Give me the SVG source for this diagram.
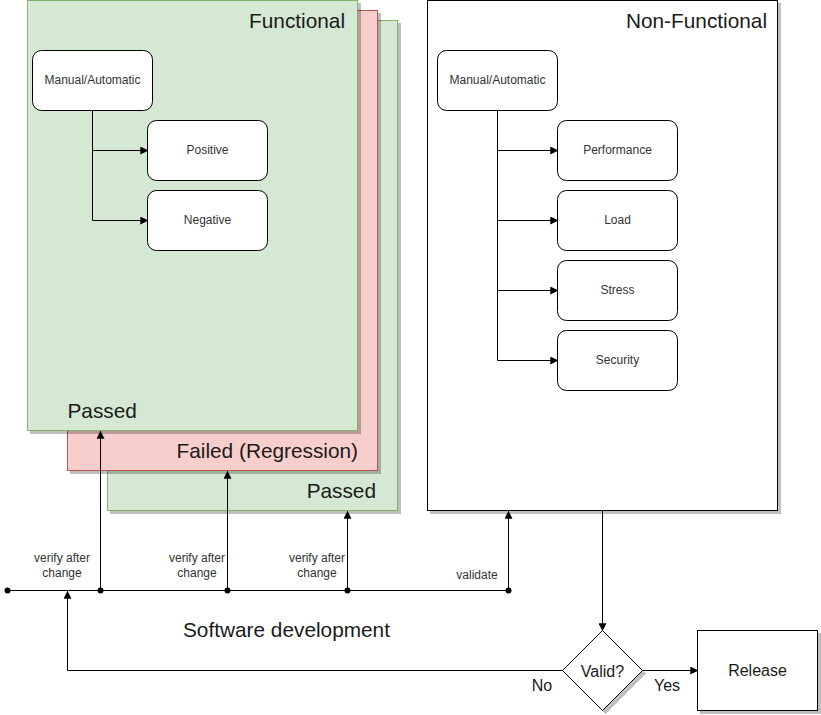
<svg xmlns="http://www.w3.org/2000/svg" width="821" height="715" viewBox="0 0 821 715">
<style>
.big{font-family:"Liberation Sans",Arial,sans-serif;font-size:20.8px;fill:#1a1a1a}
.mid{font-family:"Liberation Sans",Arial,sans-serif;font-size:16px;fill:#1a1a1a}
.sm{font-family:"Liberation Sans",Arial,sans-serif;font-size:12px;fill:#333}
.node{fill:#fff;stroke:#000;stroke-width:1}
.ln{fill:none;stroke:#000;stroke-width:1}
.c{text-anchor:middle}
.e{text-anchor:end}
</style>
<defs>
<filter id="sh" x="-5%" y="-5%" width="115%" height="115%">
<feOffset in="SourceAlpha" dx="3" dy="3" result="o"/>
<feFlood flood-color="#000" flood-opacity="0.25"/>
<feComposite in2="o" operator="in" result="s"/>
<feMerge><feMergeNode in="s"/><feMergeNode in="SourceGraphic"/></feMerge>
</filter>
<marker id="ar" viewBox="0 0 10 10" refX="9" refY="5" markerWidth="8" markerHeight="8" markerUnits="userSpaceOnUse" orient="auto">
<path d="M0,0 L10,5 L0,10 z" fill="#000"/>
</marker>
</defs>

<g id="passed2">
<rect x="107.5" y="20.5" width="290" height="490" fill="#d5e8d4" stroke="#82b366" filter="url(#sh)"/>
<text class="big e" x="376" y="498">Passed</text>
</g>
<g id="failed">
<rect x="67.5" y="10.5" width="310" height="460" fill="#f8cecc" stroke="#b85450" filter="url(#sh)"/>
<text class="big e" x="358" y="458">Failed (Regression)</text>
</g>
<g id="functional">
<rect x="27.5" y="0.5" width="330" height="430" fill="#d5e8d4" stroke="#82b366" filter="url(#sh)"/>
<text class="big e" x="345" y="28">Functional</text>
<text class="big" x="67.5" y="418">Passed</text>
</g>
<g id="nonfunctional">
<rect x="427.5" y="0.5" width="350" height="510" fill="#fff" stroke="#000" filter="url(#sh)"/>
<text class="big e" x="767" y="28">Non-Functional</text>
</g>

<g id="f-manual"><rect class="node" x="32.5" y="50.5" width="120" height="60" rx="9"/><text class="sm c" x="92.5" y="84">Manual/Automatic</text></g>
<g id="f-positive"><rect class="node" x="147.5" y="120.5" width="120" height="60" rx="9"/><text class="sm c" x="207.5" y="154">Positive</text></g>
<g id="f-negative"><rect class="node" x="147.5" y="190.5" width="120" height="60" rx="9"/><text class="sm c" x="207.5" y="224">Negative</text></g>

<g id="nf-manual"><rect class="node" x="437.5" y="50.5" width="120" height="60" rx="9"/><text class="sm c" x="497.5" y="84">Manual/Automatic</text></g>
<g id="nf-performance"><rect class="node" x="557.5" y="120.5" width="120" height="60" rx="9"/><text class="sm c" x="617.5" y="154">Performance</text></g>
<g id="nf-load"><rect class="node" x="557.5" y="190.5" width="120" height="60" rx="9"/><text class="sm c" x="617.5" y="224">Load</text></g>
<g id="nf-stress"><rect class="node" x="557.5" y="260.5" width="120" height="60" rx="9"/><text class="sm c" x="617.5" y="294">Stress</text></g>
<g id="nf-security"><rect class="node" x="557.5" y="330.5" width="120" height="60" rx="9"/><text class="sm c" x="617.5" y="364">Security</text></g>

<g id="valid">
<path d="M602.5,630.5 L642.5,670.5 L602.5,710.5 L562.5,670.5 z" fill="#fff" stroke="#000" filter="url(#sh)"/>
<text class="mid c" x="602.5" y="677">Valid?</text>
</g>
<g id="release">
<rect x="697.5" y="630.5" width="120" height="80" fill="#fff" stroke="#000" filter="url(#sh)"/>
<text class="mid c" x="757.5" y="676">Release</text>
</g>

<g id="connectors">
<path class="ln" d="M92.5,110.5 V220.5"/>
<path class="ln" d="M92.5,150.5 H147.5" marker-end="url(#ar)"/>
<path class="ln" d="M92.5,220.5 H147.5" marker-end="url(#ar)"/>
<path class="ln" d="M497.5,110.5 V360.5"/>
<path class="ln" d="M497.5,150.5 H557.5" marker-end="url(#ar)"/>
<path class="ln" d="M497.5,220.5 H557.5" marker-end="url(#ar)"/>
<path class="ln" d="M497.5,290.5 H557.5" marker-end="url(#ar)"/>
<path class="ln" d="M497.5,360.5 H557.5" marker-end="url(#ar)"/>

<path class="ln" d="M7.5,590.5 H508.5"/>
<path class="ln" d="M100.5,590.5 V431.5" marker-end="url(#ar)"/>
<path class="ln" d="M227.5,590.5 V471.5" marker-end="url(#ar)"/>
<path class="ln" d="M347.5,590.5 V511.5" marker-end="url(#ar)"/>
<path class="ln" d="M508.5,590.5 V511.5" marker-end="url(#ar)"/>
<circle cx="7.5" cy="590.5" r="3"/>
<circle cx="100.5" cy="590.5" r="3"/>
<circle cx="227.5" cy="590.5" r="3"/>
<circle cx="347.5" cy="590.5" r="3"/>
<circle cx="508.5" cy="590.5" r="3"/>

<path class="ln" d="M602.5,510.5 V630.5" marker-end="url(#ar)"/>
<path class="ln" d="M642.5,670.5 H697.5" marker-end="url(#ar)"/>
<path class="ln" d="M562.5,670.5 H67.5 V591.5" marker-end="url(#ar)"/>

<text class="sm c" x="62" y="562">verify after</text>
<text class="sm c" x="62" y="577">change</text>
<text class="sm c" x="197" y="562">verify after</text>
<text class="sm c" x="197" y="577">change</text>
<text class="sm c" x="317" y="562">verify after</text>
<text class="sm c" x="317" y="577">change</text>
<text class="sm c" x="477" y="579">validate</text>
<text class="mid c" x="542" y="691">No</text>
<text class="mid c" x="667" y="691">Yes</text>
</g>

<text class="big" x="183" y="637">Software development</text>
</svg>
